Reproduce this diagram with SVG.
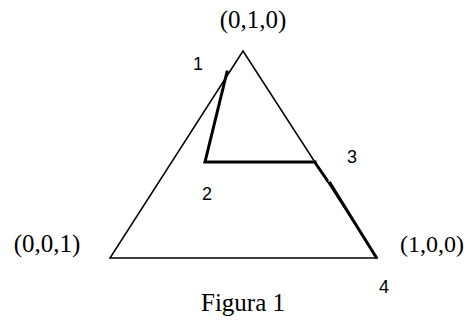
<svg xmlns="http://www.w3.org/2000/svg" width="467" height="320" viewBox="0 0 467 320">
<style>
.serif{font-family:"Liberation Serif","Times New Roman",serif;font-size:25px;fill:#000}
.sans{font-family:"Liberation Sans",Arial,sans-serif;font-size:18px;fill:#000}
.thin{stroke:#000;stroke-width:1.5;fill:none}
.thick{stroke:#000;stroke-width:3;fill:none;stroke-linecap:square}
</style>
<rect width="467" height="320" fill="#fff"/>
<g id="triangle">
<polygon class="thin" points="243,51 110,258 377,258"/>
</g>
<g id="connectors">
<polyline class="thick" points="227,72 205,162 315,162"/>
<line class="thick" x1="316" y1="164" x2="327" y2="180"/>
<line class="thick" x1="330" y1="183" x2="376" y2="257"/>
</g>
<g id="labels">
<text class="serif" x="253" y="28" text-anchor="middle">(0,1,0)</text>
<text class="serif" x="47" y="252" text-anchor="middle">(0,0,1)</text>
<text class="serif" x="400" y="252" style="font-size:24px">(1,0,0)</text>
<text class="serif" x="243" y="311" text-anchor="middle">Figura 1</text>
<text class="sans" x="198" y="70" text-anchor="middle">1</text>
<text class="sans" x="207" y="200" text-anchor="middle">2</text>
<text class="sans" x="352" y="163" text-anchor="middle">3</text>
<text class="sans" x="384" y="293" text-anchor="middle">4</text>
</g>
</svg>
